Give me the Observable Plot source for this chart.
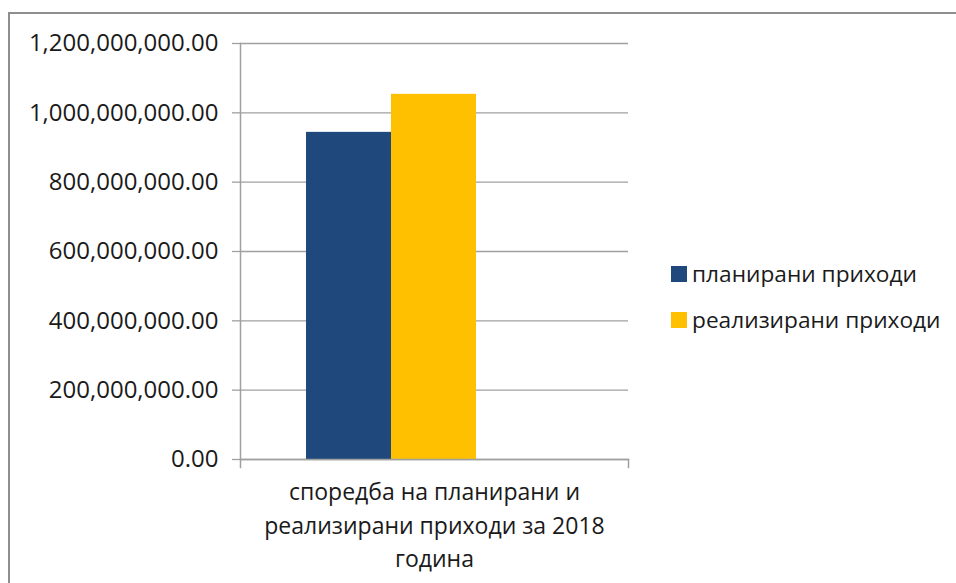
<!DOCTYPE html>
<html>
<head>
<meta charset="utf-8">
<script src="https://cdn.jsdelivr.net/npm/d3@7"></script>
<script src="https://cdn.jsdelivr.net/npm/@observablehq/plot@0.6"></script>
<style>
  html, body { margin: 0; padding: 0; background: #fff; overflow: hidden; }
  #wrap { position: relative; width: 956px; height: 583px; overflow: hidden; font-family: "Open Sans", sans-serif; }
  #border { position: absolute; left: 8px; top: 12px; width: 1000px; height: 700px; border: 2px solid #8e8e8e; box-sizing: border-box; }
  #chart { position: absolute; left: 0; top: 0; }
  #legend { position: absolute; left: 671px; top: 262px; font-size: 22.7px; color: #1a1a1a; }
  .item { display: flex; align-items: center; height: 23px; margin-bottom: 23px; white-space: nowrap; }
  .sw { width: 16px; height: 16px; margin-right: 5px; }
</style>
</head>
<body>
<div id="wrap">
  <div id="border"></div>
  <div id="chart"></div>
  <div id="legend"></div>
</div>
<script>
const series = ["планирани приходи", "реализирани приходи"];
const values = [943700000, 1053400000];
const colors = ["#1F497D", "#FFC000"];
const categoryLabel = "споредба на планирани и\nреализирани приходи за 2018\nгодина";
const yTicks = [0, 200000000, 400000000, 600000000, 800000000, 1000000000, 1200000000];

const data = series.map((s, i) => ({series: s, value: values[i]}));
const axisColor = "#a0a0a0";
const fmt = d3.format(",.2f");

const chart = Plot.plot({
  width: 956,
  height: 583,
  marginLeft: 240,
  marginRight: 328,
  marginTop: 43,
  marginBottom: 124,
  style: {fontFamily: "Open Sans, sans-serif", fontSize: "24px", color: "#1a1a1a", background: "transparent", overflow: "visible"},
  x: {domain: series, paddingInner: 0, paddingOuter: 1.266, align: 0.303, axis: null},
  y: {domain: [0, 1200000000], ticks: yTicks},
  color: {domain: series, range: colors},
  marks: [
    Plot.gridY(yTicks, {stroke: axisColor, strokeOpacity: 1, strokeWidth: 1.3}),
    Plot.barY(data, {x: "series", y: "value", fill: "series"}),
    Plot.frame({anchor: "left", stroke: axisColor, strokeWidth: 1.5, insetBottom: -8}),
    Plot.frame({anchor: "bottom", stroke: axisColor, strokeWidth: 1.5}),
    Plot.frame({anchor: "right", stroke: axisColor, strokeWidth: 1.5, insetTop: 416, insetBottom: -8}),
    Plot.axisY(yTicks, {tickSize: 8, tickPadding: 14, tickFormat: fmt, stroke: axisColor, strokeWidth: 1.3, label: null, fontSize: 24, fill: "#1a1a1a"}),
    Plot.text([categoryLabel], {frameAnchor: "bottom", lineAnchor: "top", dy: 17, lineHeight: 1.45, fontSize: 23, fill: "#1a1a1a", textAnchor: "middle"})
  ]
});
document.getElementById("chart").appendChild(chart);

const legend = document.getElementById("legend");
series.forEach((s, i) => {
  const it = document.createElement("div");
  it.className = "item";
  const sw = document.createElement("div");
  sw.className = "sw";
  sw.style.background = colors[i];
  const t = document.createElement("span");
  t.textContent = s;
  it.appendChild(sw); it.appendChild(t);
  legend.appendChild(it);
});
</script>
</body>
</html>
